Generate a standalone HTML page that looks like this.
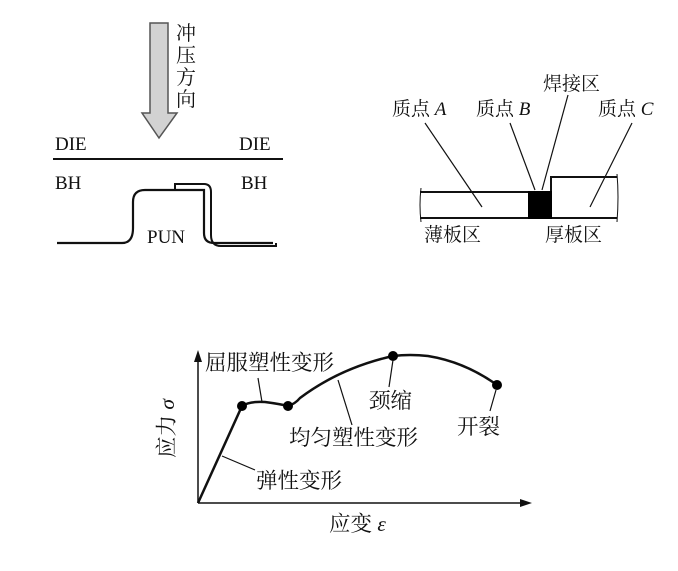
<!DOCTYPE html>
<html><head><meta charset="utf-8"><style>
html,body{margin:0;padding:0;background:#fff;}
svg text{font-family:"Liberation Serif","Noto Serif CJK SC",serif;fill:#111;}
</style></head><body>
<svg width="678" height="566" viewBox="0 0 678 566" xmlns="http://www.w3.org/2000/svg">
<g stroke="#111" fill="none" stroke-width="2">
<path d="M150 23 H168 V113 H177 L159 138 L142 113 H150 Z" fill="#d2d2d2" stroke="#555" stroke-width="1.5"/>
<line x1="53" y1="159" x2="283" y2="159"/>
<path d="M57 243 H122 Q133 243 133 228 V202 Q133 190 145 190 H204 V233 Q204 243 214 243 H273" stroke-width="2.2"/>
<path d="M175 190 V184 H204 Q211 184 211 192 V235 Q211 246 221 246 H276 V243" stroke-width="2"/>
<line x1="420" y1="192" x2="529" y2="192"/>
<line x1="420" y1="218" x2="617" y2="218"/>
<path d="M551 192 V177 H617" />
<rect x="529" y="192" width="22" height="26" fill="#000" stroke="#000"/>
<path d="M421 188 Q419 205 421 222 M617 174 Q619 196 617 222" stroke-width="1"/>
<g stroke-width="1.2">
<line x1="425" y1="123" x2="482" y2="207"/>
<line x1="510" y1="123" x2="535" y2="190"/>
<line x1="568" y1="95" x2="542" y2="190"/>
<line x1="632" y1="123" x2="590" y2="207"/>
</g>
<line x1="198" y1="503" x2="198" y2="358" stroke-width="1.5"/>
<path d="M194 362 L198 350 L202 362 Z" fill="#111" stroke="none"/>
<line x1="198" y1="503" x2="525" y2="503" stroke-width="1.5"/>
<path d="M520 499 L532 503 L520 507 Z" fill="#111" stroke="none"/>
<path d="M198 503 L242 406 Q250 401 265 402 Q280 404 288 406 Q295 404 300 398 Q340 368 393 356 Q410 354 428 356 Q465 362 497 385" stroke-width="2.5"/>
<g fill="#000" stroke="none">
<circle cx="242" cy="406" r="5"/><circle cx="288" cy="406" r="5"/>
<circle cx="393" cy="356" r="5"/><circle cx="497" cy="385" r="5"/>
</g>
<g stroke-width="1.2">
<line x1="258" y1="378" x2="262" y2="402"/>
<line x1="338" y1="380" x2="352" y2="425"/>
<line x1="393" y1="360" x2="389" y2="387"/>
<line x1="496" y1="390" x2="490" y2="411"/>
<line x1="222" y1="456" x2="255" y2="470"/>
</g>
</g>
<g font-size="20">
<text x="176" y="40">冲</text><text x="176" y="62">压</text><text x="176" y="84">方</text><text x="176" y="106">向</text>
</g>
<g font-size="19">
<text x="55" y="150">DIE</text><text x="239" y="150">DIE</text>
<text x="55" y="189">BH</text><text x="241" y="189">BH</text>
<text x="147" y="243">PUN</text>
</g>
<g font-size="19">
<text x="392" y="115">质点 <tspan font-style="italic">A</tspan></text>
<text x="476" y="115">质点 <tspan font-style="italic">B</tspan></text>
<text x="543" y="90">焊接区</text>
<text x="598" y="115">质点 <tspan font-style="italic">C</tspan></text>
<text x="424" y="241">薄板区</text>
<text x="545" y="241">厚板区</text>
</g>
<g font-size="21.5">
<text x="205" y="370">屈服塑性变形</text>
<text x="289" y="445">均匀塑性变形</text>
<text x="369" y="408">颈缩</text>
<text x="457" y="434">开裂</text>
<text x="256" y="488">弹性变形</text>
<text x="329" y="531">应变 <tspan font-style="italic">ε</tspan></text>
<text transform="translate(174,458) rotate(-90)">应力 <tspan font-style="italic">σ</tspan></text>
</g>
</svg>
</body></html>
